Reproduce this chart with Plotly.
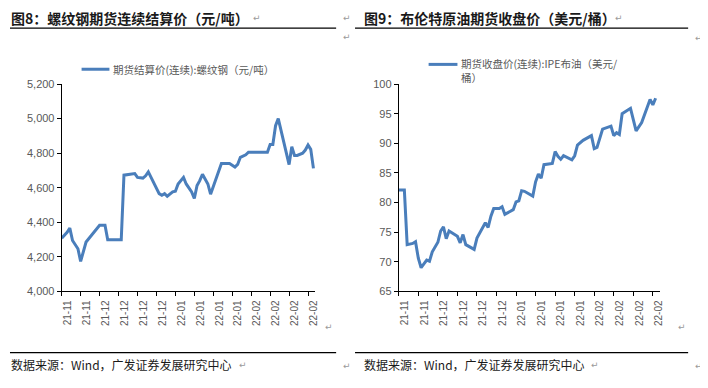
import plotly.graph_objects as go

# ---------------- data ----------------
steel_dates = ["2021-11-23","2021-11-25","2021-11-26","2021-11-27","2021-11-29","2021-11-30",
    "2021-12-02","2021-12-03","2021-12-07","2021-12-09","2021-12-10","2021-12-15","2021-12-16",
    "2021-12-20","2021-12-21","2021-12-23","2021-12-24","2021-12-25","2021-12-26","2021-12-28",
    "2021-12-29","2021-12-30","2021-12-31","2022-01-01","2022-01-02","2022-01-03","2022-01-04",
    "2022-01-05","2022-01-07","2022-01-08","2022-01-10","2022-01-11","2022-01-12","2022-01-13",
    "2022-01-14","2022-01-16","2022-01-17","2022-01-18","2022-01-20","2022-01-21","2022-01-24",
    "2022-01-26","2022-01-27","2022-01-28","2022-01-30","2022-01-31","2022-02-07","2022-02-08",
    "2022-02-09","2022-02-10","2022-02-11","2022-02-13","2022-02-15","2022-02-16","2022-02-17",
    "2022-02-18","2022-02-20","2022-02-21","2022-02-22","2022-02-23","2022-02-24"]
steel_values = [4308,4342,4366,4295,4247,4174,
    4286,4305,4383,4383,4299,4299,4673,
    4682,4660,4656,4669,4692,4660,4604,
    4566,4557,4566,4551,4566,4576,4580,
    4622,4660,4622,4576,4538,4613,4641,
    4678,4622,4563,4608,4701,4740,4740,
    4720,4735,4776,4791,4806,4806,4850,
    4850,4959,5000,4875,4734,4837,4787,
    4787,4800,4818,4847,4822,4712]

oil_dates = ["2021-11-23","2021-11-25","2021-11-26","2021-11-28","2021-11-29","2021-11-30",
    "2021-12-01","2021-12-03","2021-12-04","2021-12-05","2021-12-07","2021-12-08","2021-12-09",
    "2021-12-10","2021-12-11","2021-12-12","2021-12-14","2021-12-15","2021-12-16","2021-12-17",
    "2021-12-20","2021-12-21","2021-12-23","2021-12-24","2021-12-25","2021-12-26","2021-12-27",
    "2021-12-29","2021-12-30","2021-12-31","2022-01-03","2022-01-04","2022-01-05","2022-01-06",
    "2022-01-07","2022-01-10","2022-01-11","2022-01-12","2022-01-13","2022-01-14","2022-01-17",
    "2022-01-18","2022-01-19","2022-01-20","2022-01-21","2022-01-24","2022-01-25","2022-01-26",
    "2022-01-28","2022-01-31","2022-02-01","2022-02-02","2022-02-04","2022-02-07","2022-02-08",
    "2022-02-09","2022-02-10","2022-02-11","2022-02-14","2022-02-15","2022-02-16","2022-02-18",
    "2022-02-20","2022-02-21","2022-02-22","2022-02-23"]
oil_values = [82.1,82.1,72.9,73.1,73.4,70.6,
    69.0,70.3,70.1,71.7,73.3,75.2,75.9,
    73.9,75.2,74.9,74.3,73.2,74.6,72.9,
    72.1,74.0,75.8,76.6,75.8,77.7,79.0,
    79.0,79.3,78.0,78.8,80.1,80.3,82.0,
    81.9,81.1,83.5,84.8,84.1,86.4,86.6,
    88.6,87.8,87.3,87.9,87.2,87.9,89.7,
    90.5,91.3,89.1,89.3,92.4,92.9,91.3,
    91.8,91.5,95.0,95.9,94.0,92.1,93.5,
    95.9,97.4,96.5,97.6]

tick_dates = ["2021-11-23","2021-11-30","2021-12-07","2021-12-14","2021-12-21","2021-12-28",
    "2022-01-04","2022-01-11","2022-01-18","2022-01-25","2022-02-01","2022-02-08",
    "2022-02-15","2022-02-22"]
tick_labels = ["21-11","21-11","21-12","21-12","21-12","21-12","22-01","22-01","22-01","22-01",
    "22-02","22-02","22-02","22-02"]
x_range = ["2021-11-23", "2022-02-24 16:00"]

steel_ticks = [4000, 4200, 4400, 4600, 4800, 5000, 5200]
oil_ticks = [65, 70, 75, 80, 85, 90, 95, 100]

title_left = "图8：螺纹钢期货连续结算价（元/吨）"
title_right = "图9：布伦特原油期货收盘价（美元/桶）"
legend_left = "期货结算价(连续):螺纹钢（元/吨）"
legend_right = "期货收盘价(连续):IPE布油（美元/<br>桶）"
source_text = "数据来源：Wind，广发证券发展研究中心"

# ---------------- styling ----------------
W, H = 708, 388
OFF = 8  # the page places the figure 8px in from the top-left corner
LINE_COLOR = "#4A7EBB"
TICK_FONT = dict(family="Liberation Sans, Arial, sans-serif", size=11, color="#595959")
CJK = "Noto Sans CJK SC"


def px(x):
    return (x - OFF) / W


def py(y):
    return 1 - (y - OFF) / H


fig = go.Figure()
fig.add_trace(go.Scatter(x=steel_dates, y=steel_values, mode="lines",
                         line=dict(color=LINE_COLOR, width=3), xaxis="x", yaxis="y",
                         showlegend=False))
fig.add_trace(go.Scatter(x=oil_dates, y=oil_values, mode="lines",
                         line=dict(color=LINE_COLOR, width=3), xaxis="x2", yaxis="y2",
                         showlegend=False))

ydom = [py(294.3), py(80.3)]
xcommon = dict(type="date", range=x_range, tickmode="array", tickvals=tick_dates,
               ticktext=tick_labels, tickangle=-90, ticks="outside", ticklen=4,
               tickcolor="black", showline=True, linecolor="black", linewidth=1,
               showgrid=False, zeroline=False, ticklabelshift=6,
               tickfont=dict(family="Liberation Sans, Arial, sans-serif", size=10, color="#595959"))
ycommon = dict(ticks="outside", ticklen=4, tickcolor="black", showline=True,
               linecolor="black", linewidth=1, showgrid=False, zeroline=False,
               tickfont=TICK_FONT, tickmode="array")

fig.update_layout(
    width=W, height=H, autosize=False,
    margin=dict(l=0, r=0, t=0, b=0),
    paper_bgcolor="white", plot_bgcolor="white",
    xaxis=dict(domain=[px(62), px(317)], anchor="y", **xcommon),
    yaxis=dict(domain=ydom, anchor="x", range=[4000, 5200], tickvals=steel_ticks,
               tickformat=",d", **ycommon),
    xaxis2=dict(domain=[px(401), px(664)], anchor="y2", **xcommon),
    yaxis2=dict(domain=ydom, anchor="x2", range=[65, 100], tickvals=oil_ticks, **ycommon),
)

shapes = []
# title rules and source rules
for x0, x1 in [(10, 338), (357, 692)]:
    shapes.append(dict(type="line", xref="paper", yref="paper", x0=px(x0), x1=px(x1),
                       y0=py(22.5), y1=py(22.5), line=dict(color="black", width=1.3)))
    shapes.append(dict(type="line", xref="paper", yref="paper", x0=px(x0), x1=px(x1),
                       y0=py(357.5), y1=py(357.5), line=dict(color="black", width=1.3)))
# legend samples
shapes.append(dict(type="line", xref="paper", yref="paper", x0=px(82), x1=px(110),
                   y0=py(65), y1=py(65), line=dict(color=LINE_COLOR, width=3)))
shapes.append(dict(type="line", xref="paper", yref="paper", x0=px(431), x1=px(460),
                   y0=py(60), y1=py(60), line=dict(color=LINE_COLOR, width=3)))

ann = []


def text(x, y, s, size, color, family=CJK, xanchor="left", yanchor="middle"):
    ann.append(dict(xref="paper", yref="paper", x=px(x), y=py(y), text=s, showarrow=False,
                    xanchor=xanchor, yanchor=yanchor, align="left",
                    font=dict(family=family, size=size, color=color)))


text(9, 12, "<b>" + title_left + "</b>", 14, "#1a1a1a")
text(364, 12, "<b>" + title_right + "</b>", 14, "#1a1a1a")
text(112, 65, legend_left, 10.5, "#595959")
text(462, 66.5, legend_right, 10.5, "#595959")
text(9, 370, source_text, 12, "#1a1a1a")
text(364, 370, source_text, 12, "#1a1a1a")

# paragraph marks from the document
marks = [(252, 12), (343, 12), (343, 32), (616, 12), (697, 33), (325, 331), (680, 331),
         (238, 370), (592, 370), (343, 371), (697, 371)]
for mx, my in marks:
    text(mx, my, "↵", 9, "#9a9a9a", family="DejaVu Sans")

fig.update_layout(shapes=shapes, annotations=ann)
fig.write_html("out.html")
